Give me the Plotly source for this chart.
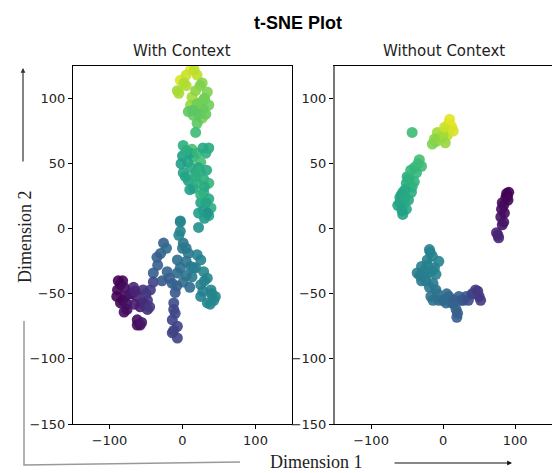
import plotly.graph_objects as go

W, H = 552, 473

# ---------------- data ----------------
left_x = [11, -3, -7, 20, 27, 34, 13, 25, 36, 11, 15, 27, 20, 18, 5, 30, 22, 8,
          1, 13, 36, 32, 0, 15, 7, 25, 1, 18, 29, 8, 36, 15, 29, 36, 25, 39, 29, 36, 22, 10,
          -3, 22, -3, 34, -3, 1, -26, 8, -30, 25, -7, -34, 11, 29, -21, -40, -7, 13, 34, 1,
          -14, 25, 39, 43, 34, 25, -10, -12, -12, -14, -7, -14, -7, 5, 18, 40,
          -85, -89, -78, -85, -76, -67, -54, -62, -48, -58, -48, -62, -58, -44, -40, -82, -70, -52,
          5, 16, 24, 30, 18, -5, 2, 28, 20, 14, 22, 32,
          5, 20, 28, -2, 12, 4, 24, 30, 20, 10, 25, 32, 30, 22, 18, 33,
          -5, 0, 5, -3, 10, 15, 20, 30, 40, 45, 38, 28, -18, -28, -35, -22, -8, 5, -10, -12,
          -88, -80, -82, -90, -76, -72, -65, -50, -55, -45, -62, -56, -80, -66]
left_y = [122, 114, 106, 118, 112, 105, 101, 97, 95, 95, 87, 85, 81, 74, 110, 100, 92, 90,
          64, 61, 62, 58, 56, 55, 51, 51, 43, 43, 38, 37, 35, 31, 28, 23, 20, 16, 14, 10, 47, 58,
          6, 1, -2, 12, 5, -11, -11, -19, -19, -24, -24, -28, -29, -33, -33, -34, -34, -37, -38, -41,
          -42, -43, -47, -55, -57, -52, -49, -57, -62, -70, -75, -80, -84, -15, -30, -50,
          -43, -47, -52, -57, -62, -45, -47, -52, -55, -60, -62, -70, -74, -47, -41, -40, -50, -58,
          118, 122, 110, 100, 106, 104, 112, 92, 96, 91, 88, 88,
          60, 58, 62, 50, 47, 40, 44, 32, 35, 30, 26, 20, 8, 12, 40, 45,
          -5, -15, -25, -30, -45, -30, -20, -40, -50, -52, -58, -48, -38, -40, -22, -15, -44, -36, -65, -78,
          -40, -45, -55, -52, -58, -50, -48, -50, -57, -60, -74, -72, -64, -58]
left_c = [0.97, 0.95, 0.85, 0.9, 0.82, 0.8, 0.86, 0.8, 0.78, 0.84, 0.76, 0.8, 0.74, 0.68, 0.88, 0.8, 0.78, 0.74,
          0.62, 0.7, 0.6, 0.62, 0.55, 0.66, 0.58, 0.7, 0.58, 0.66, 0.62, 0.57, 0.66, 0.6, 0.64, 0.6, 0.58, 0.62, 0.56, 0.6, 0.6, 0.55,
          0.45, 0.5, 0.44, 0.5, 0.46, 0.38, 0.3, 0.4, 0.3, 0.44, 0.36, 0.3, 0.42, 0.46, 0.32, 0.3, 0.34, 0.42, 0.46, 0.36,
          0.3, 0.44, 0.46, 0.47, 0.46, 0.44, 0.28, 0.24, 0.22, 0.2, 0.2, 0.19, 0.2, 0.4, 0.44, 0.46,
          0.0, 0.02, 0.04, 0.02, 0.05, 0.1, 0.14, 0.1, 0.16, 0.08, 0.12, 0.03, 0.04, 0.17, 0.2, 0.01, 0.1, 0.12,
          0.92, 0.9, 0.8, 0.78, 0.82, 0.87, 0.88, 0.76, 0.78, 0.74, 0.74, 0.76,
          0.62, 0.66, 0.6, 0.56, 0.6, 0.58, 0.64, 0.6, 0.62, 0.56, 0.64, 0.58, 0.54, 0.56, 0.62, 0.6,
          0.46, 0.4, 0.38, 0.36, 0.34, 0.42, 0.44, 0.45, 0.46, 0.46, 0.46, 0.44, 0.3, 0.28, 0.3, 0.34, 0.3, 0.38, 0.22, 0.2,
          0.0, 0.03, 0.02, 0.01, 0.04, 0.06, 0.1, 0.16, 0.12, 0.16, 0.03, 0.06, 0.03, 0.08]

right_x = [-43, 8, 12, 4, -8, -1, -10, -15, 6, 10, 0,
           -33, -30, -40, -37, -50, -51, -43, -56, -44, -60, -54, -63, -51, -56, -47, -58,
           91, 87, 84, 81, 80, 84, 74, 77, 89, 82,
           -19, -15, -6, -30, -15, -36, -26, -10, -19, -10, -17, -6, 8, 22, 12, 32, 45, 50, 18, 19, 4, -22, -30, 28, 40,
           2, 9, 14, -5, -12, 3,
           -35, -45, -48, -53, -58, -60, -57, -53, -40, -48,
           88, 90, 85, 82, 76,
           -18, -22, -26, -32, -20, -12, -24, -14, -8, -14, 0, 5, 15, 25, 35, 42, 48, 52, 20, 15]
right_y = [74, 81, 78, 76, 74, 70, 67, 65, 72, 80, 72,
           53, 48, 47, 43, 40, 35, 32, 28, 28, 24, 20, 18, 15, 11, 38, 22,
           28, 24, 18, 15, 9, 5, -3, -7, 25, 20,
           -16, -21, -25, -29, -32, -34, -37, -35, -45, -47, -52, -55, -52, -52, -57, -52, -47, -52, -62, -68, -57, -28, -40, -55, -50,
           78, 84, 75, 70, 69, 66,
           50, 45, 38, 30, 26, 20, 14, 24, 36, 22,
           27, 22, 12, 3, -5,
           -18, -24, -32, -36, -34, -30, -40, -42, -50, -55, -55, -50, -55, -55, -55, -50, -48, -55, -65, -58]
right_c = [0.68, 0.93, 0.95, 0.9, 0.86, 0.84, 0.82, 0.8, 0.9, 0.97, 0.86,
           0.7, 0.68, 0.66, 0.66, 0.62, 0.62, 0.64, 0.58, 0.62, 0.58, 0.6, 0.58, 0.6, 0.58, 0.64, 0.6,
           0.0, 0.01, 0.02, 0.03, 0.05, 0.06, 0.1, 0.12, 0.0, 0.03,
           0.44, 0.44, 0.45, 0.43, 0.44, 0.42, 0.43, 0.44, 0.4, 0.38, 0.38, 0.36, 0.32, 0.3, 0.32, 0.26, 0.18, 0.18, 0.3, 0.3, 0.34, 0.44, 0.42, 0.28, 0.22,
           0.92, 0.96, 0.94, 0.86, 0.82, 0.84,
           0.68, 0.66, 0.64, 0.6, 0.58, 0.58, 0.57, 0.6, 0.64, 0.6,
           0.0, 0.01, 0.03, 0.06, 0.1,
           0.45, 0.44, 0.43, 0.42, 0.44, 0.45, 0.42, 0.4, 0.38, 0.37, 0.34, 0.34, 0.3, 0.28, 0.24, 0.2, 0.17, 0.16, 0.3, 0.32]

x_ticks = [-100, 0, 100]
y_ticks = [-150, -100, -50, 0, 50, 100]

# ---------------- figure ----------------
def px(x):
    return x / W

def py(y):
    return 1 - y / H

fig = go.Figure()
marker_common = dict(size=11, colorscale="Viridis", cmin=0, cmax=1, opacity=0.9, line=dict(width=0))
fig.add_trace(go.Scatter(x=left_x, y=left_y, mode="markers", xaxis="x", yaxis="y",
                         marker=dict(color=left_c, **marker_common), showlegend=False, hoverinfo="skip"))
fig.add_trace(go.Scatter(x=right_x, y=right_y, mode="markers", xaxis="x2", yaxis="y2",
                         marker=dict(color=right_c, **marker_common), showlegend=False, hoverinfo="skip"))

tickfont = dict(family="DejaVu Sans", size=13, color="#222")
ax_common = dict(showgrid=False, zeroline=False, ticks="outside", ticklen=4, tickwidth=1,
                 tickcolor="black", tickfont=tickfont, linecolor="black", linewidth=1.2, showline=True,
                 automargin=False)

ydom = [py(424), py(66)]
fig.update_layout(
    width=W, height=H, margin=dict(l=0, r=0, t=0, b=0, pad=0, autoexpand=False),
    paper_bgcolor="white", plot_bgcolor="white",
    xaxis=dict(domain=[px(73), px(292)], range=[-150, 150], tickvals=x_ticks, mirror=True, anchor="y", **ax_common),
    yaxis=dict(domain=ydom, range=[-150, 125], tickvals=y_ticks, mirror=True, anchor="x", **ax_common),
    xaxis2=dict(domain=[px(335), 1.0], range=[-150, 151], tickvals=x_ticks, mirror=True, anchor="y2", **ax_common),
    yaxis2=dict(domain=ydom, range=[-150, 125], tickvals=y_ticks, anchor="x2",
                **{**ax_common, "linecolor": "#777", "linewidth": 2}),
)

annots = [
    dict(text="<b>t-SNE Plot</b>", x=px(298), y=py(23), font=dict(family="Liberation Sans", size=18, color="black")),
    dict(text="With Context", x=px(182), y=py(51), font=dict(family="DejaVu Sans", size=15, color="#222")),
    dict(text="Without Context", x=px(444), y=py(51), font=dict(family="DejaVu Sans", size=15, color="#222")),
    dict(text="Dimension 2", x=px(25), y=py(237), textangle=-90, font=dict(family="Liberation Serif", size=18, color="#222")),
    dict(text="Dimension 1", x=px(316), y=py(462), font=dict(family="Liberation Serif", size=18, color="#222")),
]
for a in annots:
    fig.add_annotation(xref="paper", yref="paper", showarrow=False, xanchor="center", yanchor="middle", **a)

# arrows (offsets in pixels)
fig.add_annotation(xref="paper", yref="paper", x=px(23), y=py(68), ax=0, ay=95,
                   axref="pixel", ayref="pixel", showarrow=True, arrowhead=2, arrowsize=0.8,
                   arrowwidth=1.2, arrowcolor="#333", text="")
fig.add_annotation(xref="paper", yref="paper", x=px(512), y=py(463), ax=-119, ay=0,
                   axref="pixel", ayref="pixel", showarrow=True, arrowhead=2, arrowsize=0.8,
                   arrowwidth=1.2, arrowcolor="#111", text="")

# grey L-shaped bracket
fig.add_shape(type="path", xref="paper", yref="paper",
              path=f"M {px(24)} {py(321)} L {px(24)} {py(465)} L {px(240)} {py(462)}",
              line=dict(color="#999", width=1.5))

fig.write_html("out.html", config={"displayModeBar": False},
               post_script="document.body.style.margin='0';document.body.style.overflow='hidden';")
